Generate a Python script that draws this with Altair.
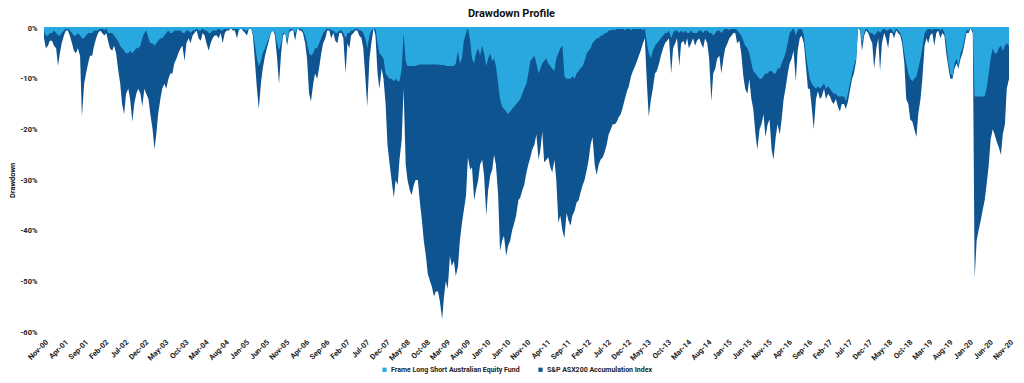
import altair as alt
import pandas as pd

# Semi-monthly drawdown readings (%), Nov-2000 .. Nov-2020 (1st and 15th of each month)
fund_dd = [
    -0.5,-1.5, -1.5,-1, -1,-0.5, -1,-1.5, -1.5,-1, -0.5,0, 0,-0.5, -1,-1.5, -1.5,-1, -1.5,-2, -2,-1.5, -1,-1,
    -1,-0.5, -0.5,-0.5, 0,0, -0.5,0, -1,-1, -1,-1.5, -2,-2.5, -3.5,-4, -4.5,-5, -5,-4.5, -5,-4.5, -4,-4,
    -3.5,-2, -1,-0.5, -2,-3, -3,-3.5, -3,-2.5, -2,-2, -1.5,-1, -0.5,-1, -1,-0.5, -0.5,-0.5, -0.5,-1, -1,-0.5,
    -0.5,-1, -0.5,-0.5, 0,-0.5, -0.5,0, -0.5,-0.5, -1,-1, -0.5,-0.5, -0.5,0, -0.5,-0.5, 0,0, 0,0, 0,0,
    0,-0.5, 0,0, -0.5,-0.5, 0,0, -1,-3, -6,-7.5, -6.5,-5, -4,-3, -2,-1, -0.5,-1, -3,-4.5, -3,-1,
    -1,-2.5, -0.5,0, -0.5,-1, 0,0, 0,-0.5, -1.5,-3, -5,-5.5, -5,-4, -4,-3, -2,-1, -0.5,0, 0,-0.5,
    -0.5,-1, -1,-0.5, -0.5,-1, -2,-1, -1,-0.5, -0.5,0, 0,-0.5, -0.5,-1, -2,-4, -1.5,-0.5, 0,0, -3,-5,
    -5.5,-6, -9,-9.5, -10,-10, -10.5,-10, -10.5,-10.5, -8,-1, -6.5,-7.5, -7.5,-7.5, -7.5,-7.5, -7.3,-7.2, -7.2,-7.2, -7.2,-7.2,
    -7.2,-7.2, -7.2,-7.2, -7.2,-7.3, -7.3,-7.3, -7.5,-7.5, -7.5,-7.5, -7.5,-7, -4.5,-7, -6,-2.5, -1,0, -2.5,-6, -7,-5,
    -4,-5.5, -3.5,-5, -7.5,-6, -5,-6.5, -6,-7.5, -11,-14, -15.5,-16, -16.5,-17, -16.5,-16, -15.5,-15, -14.5,-14, -13,-12,
    -11,-9, -6.5,-6, -5.5,-7, -9,-8, -7,-6.5, -6,-7, -7.5,-8, -8.5,-6, -5,-4, -3.5,-9.5, -10,-10, -10,-9.5,
    -10,-9, -8.5,-8, -7.5,-6.5, -5,-4.5, -4,-3, -2.5,-2, -2,-1.5, -1.5,-1, -1,-0.5, -0.5,-0.3, -0.5,0, -0.3,0,
    0,-0.5, 0,0, -0.5,0, 0,-0.3, 0,0, -0.5,0, -3,-5, -6,-4.5, -3.5,-3, -2.5,-2, -1.5,-1, -1,-0.5,
    -2,-1, -0.5,-0.5, -1,-0.5, -1,-0.5, -1,-1, -0.5,-1, -1,-1, -0.5,-0.5, -1,-0.5, -0.5,-1, -1,-1.5, -1,-0.5,
    -0.5,-1, -0.5,0, 0,-0.5, 0,0, 0,-0.5, -1,-1.5, -2.5,-3.5, -4,-5, -7,-8.5, -9,-9.5, -10,-10, -9.5,-9,
    -9,-8.5, -8.5,-9, -9,-8, -8,-7, -6,-5, -3,-1, -0.5,0, -1.5,-0.5, 0,0, -1.5,-5, -8,-10, -11,-11.5,
    -12,-11.5, -12,-11.5, -11,-12, -11.5,-12, -12.5,-13, -13,-13.5, -13.5,-13.5, -13.5,-14.5, -13,-11, -9,-7.5, -6,0, 0,-3,
    -1,0, -0.5,-1, -1,-1.5, -1,-0.5, -1,-0.5, 0,-0.5, -0.5,0, -0.5,-1, 0,-0.5, -1,-2, -5,-7, -9,-10,
    -10.5,-10, -9.5,-8, -6,-4, -1,-0.5, 0,0, -0.5,0, 0,0, -0.5,0, -1,-3, -7,-9, -9.5,-7, -6,-7.5,
    -5,-4, -2,-0.5, -0.5,0, -0.5,-13.5, -13.5,-13.5, -13.5,-13.5, -13.5,-12, -9,-6, -4,-5, -5,-4, -3.5,-4.5, -3.5,-3,
    -3.5,
]

index_dd = [
    -2,-4, -3.5,-2.5, -2.5,-3.5, -4,-7.5, -5,-3, -1.5,-0.5, -0.5,-1.5, -3,-4.5, -5,-4, -5.5,-17.5, -11,-9, -7,-5.5,
    -5.5,-3.5, -2,-1, -0.5,-1, -1.5,-1, -2.5,-4, -4.5,-3.5, -5,-8, -11,-15, -17,-13, -12,-14, -18.5,-15, -13,-12,
    -13,-15.5, -12,-13, -14,-17, -20,-24, -21,-17, -14,-12, -11,-12, -10,-9, -9,-7, -6,-5, -4,-3.5, -6.5,-3,
    -2,-3, -1.5,-1, -0.5,-2, -2.5,-1, -1.5,-3, -4.5,-3, -2,-1.5, -1.5,-2, -1,-3, -1,-0.5, -0.5,0, -0.5,-0.5,
    -2,-0.5, 0,-0.5, -1,-1.5, 0,0, -1.5,-6, -12,-16, -11,-8, -5.5,-4, -2.5,-1, -0.5,-1.5, -6,-11, -5,-1.5,
    -1,-3.5, -1,-0.5, -0.5,-2.5, 0,-0.5, -0.5,-1, -3,-6, -13,-14.5, -11,-9, -10,-8, -5,-3, -2,-0.5, -0.5,-2,
    -1,-2.5, -3,-1, -1,-2, -9,-3, -4,-1.5, -1,-0.5, -0.5,-1.5, -2,-4, -10,-15.5, -6,-3, 0,-1.5, -9,-12,
    -8,-10, -15,-23, -27,-30, -33.5,-30, -31,-26, -22,-12, -27,-30, -32,-33, -31,-30, -30,-34, -38,-42, -45,-48.5,
    -50,-51, -53,-52, -52,-54, -57.5,-53, -50,-51.5, -45,-47, -46,-49, -47,-42, -38.5,-36, -33,-25.5, -28,-27.5, -34,-32,
    -30,-27, -26,-29, -37,-32, -29,-28, -25,-27, -33,-44, -42,-41, -45,-43, -42,-40, -38.5,-37, -34,-33.5, -32,-31,
    -28.5,-27, -25.5,-24, -23,-21, -26,-24, -20.5,-26.5, -26,-25.5, -27.5,-28.5, -26,-30, -38.5,-37, -40,-41.5, -36.5,-38, -39,-37,
    -36,-34.5, -34,-32.5, -31,-30, -28,-26, -23,-21.5, -27,-29, -27,-26, -25.5,-24.5, -23,-21, -20,-19, -19,-18.5, -17.5,-17,
    -15.5,-14, -12.5,-11.5, -9.5,-8.5, -7.5,-6.5, -5.5,-4.5, -3,-2, -11,-17.5, -14,-12, -9,-8.5, -7,-5.5, -4,-3, -2.5,-2,
    -9,-4, -3,-2, -7.5,-3, -2.5,-3.5, -2,-4, -3,-2, -3.5,-2.5, -2,-3, -4,-2, -3,-6, -14.5,-9, -8,-6,
    -5.5,-9, -6,-4, -3,-2, -1.5,-1, -1,-3, -2.5,-5, -9.5,-12, -13,-10, -14,-16, -21,-24, -20,-19, -17,-21.5,
    -19,-18, -24,-26, -21.5,-19, -21,-18, -14,-12, -9,-7, -6,-4.5, -10.5,-4.5, -2,-1.5, -3,-7, -12,-12, -16,-20,
    -14,-12.5, -14,-13.5, -12,-14, -13,-13.5, -14.5,-15, -14,-15.5, -16.5,-15, -15,-16, -14.5,-12.5, -10,-9, -6.5,0, -0.5,-4.5,
    -1.5,-0.5, -1,-2, -3,-8, -4,-2, -8.5,-3, -1,-2, -4,-1, -1,-2, -0.5,-1, -1.5,-3, -7,-14, -15,-18,
    -18.5,-20, -21.5,-17, -14,-10, -3.5,-2, -3,-1.5, -1,-3.5, -1,-0.5, -2,-1, -1.5,-5, -8,-10, -10,-8, -7,-8,
    -6,-5, -3,-1, -1,0, -1,-49.5, -42,-40, -38,-36, -34,-31, -27,-22, -20,-21, -22.5,-23.5, -25,-21, -19,-12,
    -10,
]

fund_name = "Frame Long Short Australian Equity Fund"
index_name = "S&P ASX200 Accumulation Index"
y_ticks = [0, -10, -20, -30, -40, -50, -60]

dates = pd.date_range("2000-11-01", "2020-11-01", freq="SMS")
assert len(dates) == len(fund_dd) == len(index_dd), (len(dates), len(fund_dd), len(index_dd))
tick_dates = pd.date_range("2000-11-01", "2020-11-01", freq="5MS")
tick_ms = [int(t) for t in (tick_dates.astype("int64") // 10**6)]

df = pd.DataFrame({
    "date": dates.strftime("%Y-%m-%d"),
    "fund": fund_dd,
    "index": index_dd,
})

LIGHT = "#29A8E0"
DARK = "#0E5490"

x_enc = alt.X(
    "date:T",
    scale=alt.Scale(type="utc", nice=False),
    axis=alt.Axis(
        values=tick_ms, format="%b-%y", labelAngle=-45, labelFontSize=7.5,
        labelFontWeight="bold", labelColor="#222", domain=False, ticks=False,
        grid=False, labelOverlap=False, labelFlush=False, labelPadding=6, title=None,
    ),
)
y_scale = alt.Scale(domain=[-60, 0], nice=False, zero=False)
y_axis = alt.Axis(
    values=y_ticks, labelExpr="datum.value + '%'", labelFontSize=7.5,
    labelFontWeight="bold", labelColor="#222", domain=False, ticks=False, grid=False,
    labelPadding=7, title="Drawdown", titleFontSize=7.5, titleFontWeight="bold",
    titleColor="#111", titlePadding=3,
)
color_scale = alt.Scale(domain=[fund_name, index_name], range=[LIGHT, DARK])
legend = alt.Legend(
    title=None, orient="none", legendX=337, legendY=338, direction="horizontal",
    symbolType="square", symbolSize=18, labelFontSize=7, labelFontWeight="bold",
    labelColor="#222", columnPadding=17, symbolStrokeWidth=0, labelOffset=3,
)

base = alt.Chart(df)
index_area = base.transform_calculate(series=f"'{index_name}'").mark_area(
    interpolate="linear"
).encode(
    x=x_enc,
    y=alt.Y("index:Q", scale=y_scale, axis=y_axis),
    y2=alt.datum(0),
    color=alt.Color("series:N", scale=color_scale, legend=legend),
)
fund_area = base.transform_calculate(series=f"'{fund_name}'").mark_area(
    interpolate="linear"
).encode(
    x=x_enc,
    y=alt.Y("fund:Q", scale=y_scale),
    y2=alt.datum(0),
    color=alt.Color("series:N", scale=color_scale, legend=legend),
)
zero_line = base.mark_rule(color=LIGHT, strokeWidth=1.5).encode(y=alt.datum(0))

chart = alt.layer(index_area, fund_area, zero_line).properties(
    width=965,
    height=304,
    autosize=alt.AutoSizeParams(type="none"),
    padding={"left": 36, "top": 20, "right": 7, "bottom": 48},
    title=alt.TitleParams("Drawdown Profile", fontSize=11, fontWeight="bold",
                          anchor="middle", offset=5, dx=-15, color="#111"),
).configure(font="Roboto").configure_view(stroke=None)

chart.save("out.html", embed_options={"renderer": "svg", "actions": False})
